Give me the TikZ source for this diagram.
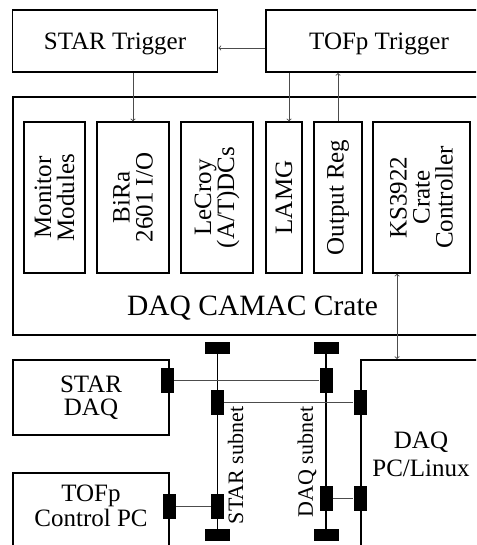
\documentclass[tikz,border=0pt]{standalone}
\usepackage{fontspec}
\setmainfont{Liberation Serif}

\begin{document}
\begin{tikzpicture}[x=1pt, y=-1pt,
        every node/.style={font=\fontsize{25}{23}\selectfont},
        box/.style={draw, line width=1.8pt, inner sep=0pt},
        module/.style={draw, line width=1.3pt, inner sep=0pt, rotate=90, align=center},
        wire/.style={draw=black!70, line width=0.9pt},
        bus/.style={draw=black, line width=1.1pt},
        plug/.style={fill=black, inner sep=0pt, minimum width=13pt, minimum height=25pt},
        term/.style={fill=black, inner sep=0pt, minimum width=25pt, minimum height=12pt}]
    \useasboundingbox (0,0) rectangle (476,545);
    \clip (0,0) rectangle (476,545);

    % Triggers
    \node[box, text depth=0pt, minimum width=205pt, minimum height=62pt] (startrig) at (115,41) {STAR Trigger};
    \node[box, text depth=0pt, minimum width=226pt, minimum height=62pt] (toftrig) at (379,41) {TOFp Trigger};

    % DAQ CAMAC crate
    \node[box, line width=2pt, minimum width=479pt, minimum height=238pt] (crate) at (252.4,216) {};
    \node[font=\fontsize{29.5}{30}\selectfont, anchor=base] (crate name) at (252.5,315) {DAQ CAMAC Crate};

    % Modules
    \node[module, minimum width=151pt, minimum height=61pt] (monitor) at (54.5,197.5) {Monitor\\Modules};
    \node[module, minimum width=151pt, minimum height=72pt] (bira) at (133,197.5) {BiRa\\2601 I/O};
    \node[module, minimum width=151pt, minimum height=72pt] (lecroy) at (217,197.5) {LeCroy\\(A/T)DCs};
    \node[module, minimum width=151pt, minimum height=36pt] (lamg) at (284,197.5) {LAMG};
    \node[module, minimum width=151pt, minimum height=48pt] (outreg) at (338,197.5) {Output Reg};
    \node[module, minimum width=151pt, minimum height=97pt] (ks) at (421.5,197.5) {KS3922\\Crate\\Controller};

    % Lower boxes
    \node[box, minimum width=156pt, minimum height=75pt, align=center, font=\fontsize{25}{22.5}\selectfont] (stardaq) at (91,397.5) {STAR\\DAQ};
    \node[box, minimum width=156pt, minimum height=80pt] (tofpc) at (91,513) {};
    \node[align=center, font=\fontsize{25}{25}\selectfont] (tofpc text) at (91,506) {TOFp\\Control PC};
    \node[box, minimum width=120pt, minimum height=200pt] (daqpc) at (421,460) {};
    \node[align=center, font=\fontsize{25}{28}\selectfont] (daqpc text) at (421,454) {DAQ\\PC/Linux};

    % Trigger signals
    \coordinate (lamg in) at ([xshift=5pt]lamg.east);
    \coordinate (ks bus) at ([xshift=-24.5pt]ks.west);
    \draw[wire, ->] ([yshift=-7pt]toftrig.west) -- ([yshift=-7pt]startrig.east);
    \draw[wire, ->] (bira.east |- startrig.south) -- (bira.east);
    \draw[wire, ->] (lamg in |- toftrig.south) -- (lamg in);
    \draw[wire, ->] (outreg.east) -- (outreg.east |- toftrig.south);
    \draw[wire, <->] (ks bus) -- (ks bus |- daqpc.north);

    % Subnets
    \foreach \name/\x in {star/217.5, daq/326} {
        \node[term] (\name top) at (\x,348) {};
        \node[term] (\name bot) at (\x,535) {};
        \draw[bus] (\name top) -- (\name bot);
    }

    % Network plugs
    \node[plug] (stardaq plug) at (167.5,380) {};
    \node[plug] (daq plug a) at (326,380) {};
    \node[plug] (star plug a) at (217.5,402) {};
    \node[plug] (daqpc plug a) at (360,402) {};
    \node[plug] (tofpc plug) at (169,506) {};
    \node[plug] (star plug b) at (217.5,506) {};
    \node[plug] (daq plug b) at (326,498) {};
    \node[plug] (daqpc plug b) at (360,498) {};

    % Cables
    \draw[wire] (stardaq plug) -- (daq plug a);
    \draw[wire] (star plug a) -- (daqpc plug a);
    \draw[wire] (tofpc plug) -- (star plug b);
    \draw[wire] (daq plug b) -- (daqpc plug b);

    % Subnet labels
    \node[rotate=90, font=\fontsize{22}{22}\selectfont] (star subnet) at (235.5,465.5) {STAR subnet};
    \node[rotate=90, font=\fontsize{22}{22}\selectfont] (daq subnet) at (307,462) {DAQ subnet};
\end{tikzpicture}
\end{document}
